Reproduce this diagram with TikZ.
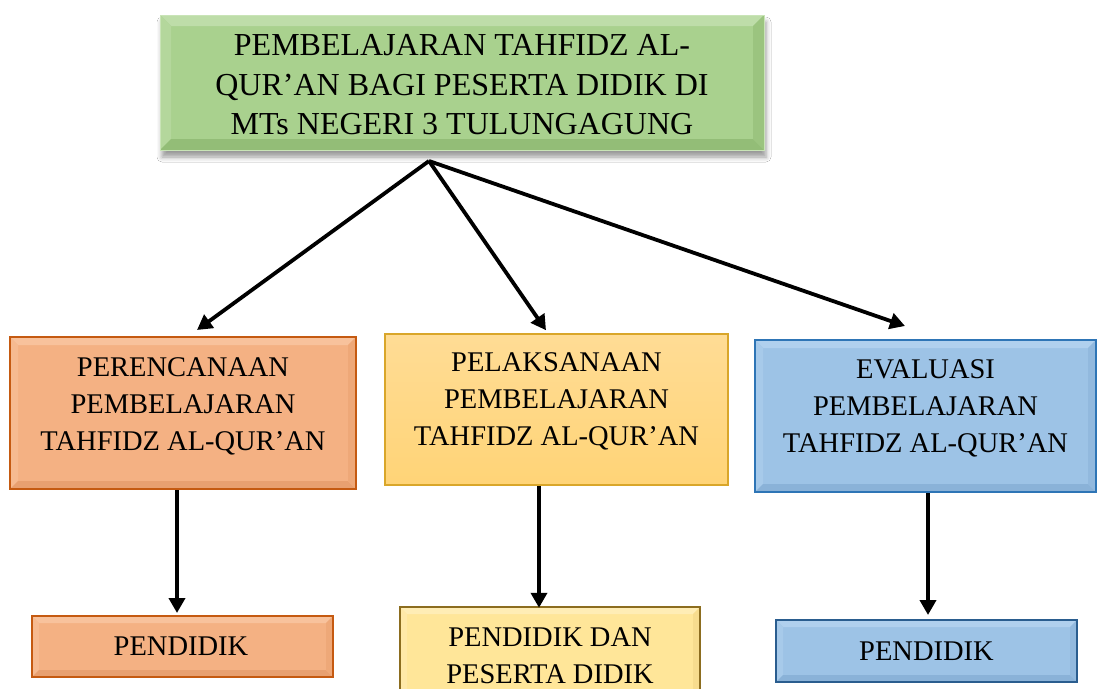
\documentclass[tikz,border=0pt]{standalone}
\usepackage{fontspec}
\setmainfont{Liberation Serif}
\usetikzlibrary{arrows.meta,shadows.blur,calc}
\definecolor{gmain}{HTML}{A9D18E}
\definecolor{gtop}{HTML}{BEDDA9}
\definecolor{gleft}{HTML}{B4D79C}
\definecolor{gbot}{HTML}{93BD77}
\definecolor{gright}{HTML}{9BC47F}
\definecolor{gedge}{HTML}{C9E4B7}
\definecolor{omain}{HTML}{F4B183}
\definecolor{otop}{HTML}{F8C29C}
\definecolor{oleft}{HTML}{F6BA90}
\definecolor{obot}{HTML}{E8A070}
\definecolor{oright}{HTML}{EEA878}
\definecolor{oedge}{HTML}{C55A11}
\definecolor{ytop}{HTML}{FFDC95}
\definecolor{ybot}{HTML}{FFD477}
\definecolor{yedge}{HTML}{D9A62A}
\definecolor{ymain}{HTML}{FFE699}
\definecolor{ytop2}{HTML}{FFEDB5}
\definecolor{yleft2}{HTML}{FFE9A8}
\definecolor{ybot2}{HTML}{F2D687}
\definecolor{yright2}{HTML}{F7DC8E}
\definecolor{yedge2}{HTML}{8C6D1F}
\definecolor{bmain}{HTML}{9DC3E6}
\definecolor{btop}{HTML}{B0D0EE}
\definecolor{bleft}{HTML}{A7CAEA}
\definecolor{bbot}{HTML}{8AB2D8}
\definecolor{bright}{HTML}{92B9DE}
\definecolor{bedge}{HTML}{2E75B6}
\definecolor{bedge2}{HTML}{2A5D8F}
\begin{document}
\begin{tikzpicture}[x=1pt,y=-1pt,
  box/.style={rectangle, inner sep=0pt},
  arr/.style={line width=3.8pt, -{Triangle[length=15pt,width=16pt]}},
  ttxt/.style={align=center, font=\fontsize{32}{39.5}\selectfont, inner sep=0pt},
  mtxt/.style={align=center, font=\fontsize{28.5}{37}\selectfont, inner sep=0pt},
  bev/.style n args={5}{path picture={
    \coordinate (bvA) at (path picture bounding box.north west);
    \coordinate (bvB) at (path picture bounding box.north east);
    \coordinate (bvC) at (path picture bounding box.south east);
    \coordinate (bvD) at (path picture bounding box.south west);
    \coordinate (bva) at ([shift={(#5,-#5)}]bvA);
    \coordinate (bvb) at ([shift={(-#5,-#5)}]bvB);
    \coordinate (bvc) at ([shift={(-#5,#5)}]bvC);
    \coordinate (bvd) at ([shift={(#5,#5)}]bvD);
    \fill[#1] (bvA)--(bvB)--(bvb)--(bva)--cycle;
    \fill[#2] (bvA)--(bva)--(bvd)--(bvD)--cycle;
    \fill[#3] (bvD)--(bvd)--(bvc)--(bvC)--cycle;
    \fill[#4] (bvB)--(bvC)--(bvc)--(bvb)--cycle;
  }}
]
\clip (0,0) rectangle (1097,688);
\fill[white] (0,0) rectangle (1097,688);

% top box
\node[box, minimum width=604pt, minimum height=135pt, fill=gmain, draw=gedge, line width=1pt,
  bev={gtop}{gleft}{gbot}{gright}{11pt},
  blur shadow={shadow xshift=2pt, shadow yshift=-7pt, shadow blur radius=5pt, shadow opacity=40}]
  (T) at (462,82.5) {};
\node[ttxt] (Tt) at (462,85) {PEMBELAJARAN TAHFIDZ AL-\\QUR’AN BAGI PESERTA DIDIK DI\\MTs NEGERI 3 TULUNGAGUNG};

% second row
\node[box, minimum width=346pt, minimum height=152pt, fill=omain, draw=oedge, line width=2pt,
  bev={otop}{oleft}{obot}{oright}{8pt}] (L) at (183,413) {};
\node[mtxt] (Lt) at (183,406) {PERENCANAAN\\PEMBELAJARAN\\TAHFIDZ AL-QUR’AN};

\node[box, minimum width=343pt, minimum height=151pt, top color=ytop, bottom color=ybot, draw=yedge, line width=1.5pt] (M) at (556.5,409.5) {};
\node[mtxt] (Mt) at (556.5,401) {PELAKSANAAN\\PEMBELAJARAN\\TAHFIDZ AL-QUR’AN};

\node[box, minimum width=341pt, minimum height=152pt, fill=bmain, draw=bedge, line width=2pt,
  bev={btop}{bleft}{bbot}{bright}{8pt}] (R) at (925.5,416) {};
\node[mtxt] (Rt) at (925.5,408) {EVALUASI\\PEMBELAJARAN\\TAHFIDZ AL-QUR’AN};

% bottom row
\node[box, minimum width=301pt, minimum height=61pt, fill=omain, draw=oedge, line width=2pt,
  bev={otop}{oleft}{obot}{oright}{7pt}] (LB) at (182.5,646.5) {};
\node[mtxt] (LBt) at (181,646) {PENDIDIK};

\node[box, minimum width=300pt, minimum height=113pt, fill=ymain, draw=yedge2, line width=2.5pt,
  bev={ytop2}{yleft2}{ybot2}{yright2}{7pt}] (MB) at (550,663.5) {};
\node[mtxt] (MBt) at (550,656) {PENDIDIK DAN\\PESERTA DIDIK};

\node[box, minimum width=301pt, minimum height=62pt, fill=bmain, draw=bedge2, line width=2pt,
  bev={btop}{bleft}{bbot}{bright}{7pt}] (RB) at (926.5,651) {};
\node[mtxt] (RBt) at (926.5,651) {PENDIDIK};

% connectors
\coordinate (src) at (429,161);
\draw[arr] (src) -- ($(L.north)+(14,-6)$);
\draw[arr] (src) -- ($(M.north)+(-10.5,-3)$);
\draw[arr] (src) -- ($(R.north)+(-20.5,-13)$);
\draw[arr] ($(L.south)+(-6,0)$) -- ($(LB.north)+(-5.5,-2)$);
\draw[arr] ($(M.south)+(-17.5,0)$) -- ($(MB.north)+(-11,2)$);
\draw[arr] ($(R.south)+(2.5,0)$) -- ($(RB.north)+(1.5,-4)$);
\end{tikzpicture}
\end{document}
